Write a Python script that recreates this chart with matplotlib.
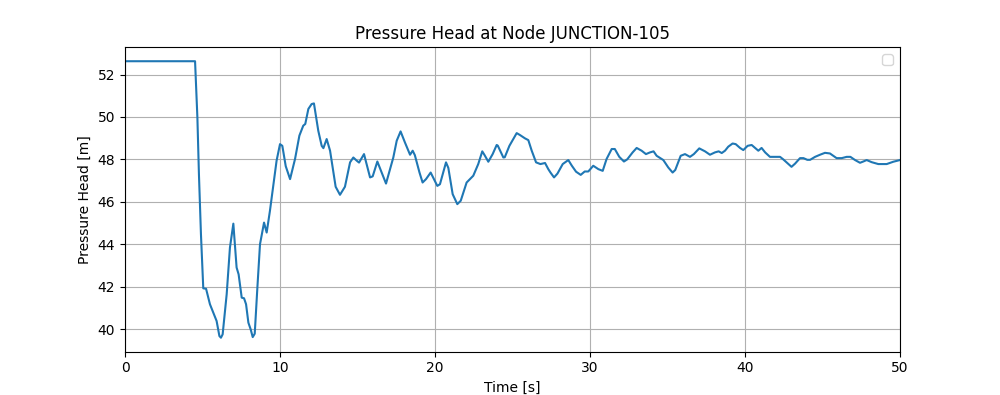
import matplotlib
matplotlib.use("Agg")
import matplotlib.pyplot as plt

# pressure head trace
time_s = [0.0, 4.52, 4.67, 4.77, 4.90, 5.05, 5.23, 5.48, 5.81, 5.91, 6.09, 6.19, 6.30,
          6.56, 6.77, 6.99, 7.20, 7.33, 7.53, 7.68, 7.81, 7.96, 8.11, 8.24, 8.37,
          8.54, 8.71, 8.97, 9.14, 9.35, 9.78, 10.0, 10.15, 10.37, 10.65, 10.97, 11.25,
          11.5, 11.63, 11.83, 12.04, 12.19, 12.47, 12.69, 12.8, 13.01, 13.23, 13.59,
          13.87, 14.19, 14.52, 14.73, 14.95, 15.1, 15.42, 15.81, 15.98, 16.28, 16.84,
          17.31, 17.53, 17.78, 18.06, 18.39, 18.56, 18.7, 19.0, 19.2, 19.42, 19.72,
          20.15, 20.32, 20.71, 20.86, 21.14, 21.44, 21.66, 22.04, 22.47, 22.79, 23.05,
          23.2, 23.44, 23.72, 23.98, 24.05, 24.41, 24.5, 24.8, 25.05, 25.27, 25.48,
          25.81, 26.02, 26.24, 26.52, 26.8, 27.1, 27.31, 27.45, 27.68, 27.9, 28.24,
          28.6, 28.83, 29.1, 29.4, 29.66, 29.89, 30.21, 30.54, 30.82, 31.07, 31.4,
          31.6, 31.89, 32.19, 32.4, 32.75, 33.01, 33.33, 33.61, 33.87, 34.1, 34.3,
          34.73, 35.05, 35.33, 35.5, 35.85, 36.13, 36.45, 36.7, 37.05, 37.42, 37.74,
          38.06, 38.3, 38.5, 38.71, 38.92, 39.2, 39.4, 39.68, 39.89, 40.17, 40.43,
          40.65, 40.86, 41.07, 41.3, 41.61, 41.93, 42.26, 42.47, 42.8, 43.0, 43.23,
          43.55, 43.77, 44.02, 44.2, 44.52, 44.84, 45.16, 45.48, 45.91, 46.24, 46.56,
          46.8, 47.1, 47.42, 47.63, 47.85, 48.17, 48.6, 49.14, 49.57, 50.0]
head_m = [52.63, 52.63, 49.98, 47.3, 44.47, 41.92, 41.9, 41.17, 40.57, 40.38, 39.67, 39.59, 39.75,
          41.64, 43.84, 44.97, 42.9, 42.58, 41.48, 41.45, 41.17, 40.3, 39.98, 39.62, 39.78,
          41.95, 44.0, 45.02, 44.55, 45.57, 47.94, 48.72, 48.64, 47.68, 47.07, 48.02, 49.12,
          49.59, 49.67, 50.38, 50.61, 50.64, 49.35, 48.64, 48.53, 48.96, 48.41, 46.71,
          46.33, 46.71, 47.86, 48.09, 47.94, 47.85, 48.25, 47.15, 47.2, 47.9, 46.86,
          48.09, 48.88, 49.32, 48.8, 48.22, 48.41, 48.2, 47.38, 46.91, 47.07, 47.38,
          46.75, 46.83, 47.86, 47.6, 46.36, 45.89, 46.05, 46.91, 47.23, 47.78, 48.38,
          48.2, 47.89, 48.25, 48.68, 48.65, 48.09, 48.1, 48.64, 48.96, 49.24, 49.15,
          48.99, 48.91, 48.41, 47.86, 47.78, 47.83, 47.54, 47.38, 47.15, 47.33, 47.78,
          47.97, 47.7, 47.42, 47.27, 47.43, 47.43, 47.7, 47.54, 47.46, 48.02, 48.49,
          48.49, 48.12, 47.9, 48.0, 48.33, 48.54, 48.41, 48.25, 48.33, 48.38, 48.17,
          47.97, 47.62, 47.38, 47.5, 48.17, 48.25, 48.12, 48.25, 48.52, 48.38, 48.22,
          48.33, 48.38, 48.3, 48.41, 48.6, 48.75, 48.72, 48.54, 48.44, 48.64, 48.68,
          48.54, 48.41, 48.54, 48.33, 48.12, 48.12, 48.12, 48.0, 47.78, 47.65, 47.8,
          48.06, 48.06, 47.98, 47.98, 48.12, 48.22, 48.31, 48.28, 48.06, 48.06, 48.12,
          48.12, 47.97, 47.84, 47.9, 47.97, 47.87, 47.78, 47.78, 47.89, 47.97]

fig, ax = plt.subplots(figsize=(10, 3.95), dpi=100)
ax.plot(time_s, head_m)
ax.set_xlim(0, 50)
ax.set_title("Pressure Head at Node JUNCTION-105")
ax.set_xlabel("Time [s]")
ax.set_ylabel("Pressure Head [m]")
ax.grid(True)
ax.legend()
fig.savefig("out.png", dpi=100)
